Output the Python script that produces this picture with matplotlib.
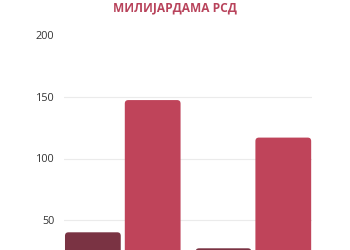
import matplotlib
matplotlib.use("Agg")
import matplotlib.pyplot as plt
from matplotlib.patches import FancyBboxPatch
import numpy as np

title = "МИЛИЈАРДАМА РСД"
categories = ["A", "B"]
series1 = [40, 27]     # dark
series2 = [147.5, 117]  # red
yticks = [50, 100, 150, 200]

dark = "#7a3343"
red = "#bf445a"

plt.rcParams['font.family'] = ['Open Sans', 'DejaVu Sans']

fig = plt.figure(figsize=(3.5, 2.5), dpi=100)
ax = fig.add_axes([64/350, 1 - 281.5/250, (311.5-64)/350, 246/250])

x = np.arange(len(categories))
w = 0.427
d = 0.229
b1 = ax.bar(x - d, series1, w, color=dark, zorder=2)
b2 = ax.bar(x + d, series2, w, color=red, zorder=2)

xlim = (-0.45, 1.445)
ylim = (0, 200)
ax.set_xlim(*xlim)
ax.set_ylim(*ylim)

# rounded corners
xpp = (xlim[1]-xlim[0]) / (311.5-64)
ypp = (ylim[1]-ylim[0]) / 246
aspect = ypp / xpp
for bars in (b1, b2):
    for p in bars:
        bx, by = p.get_x(), p.get_y()
        bw, bh = p.get_width(), p.get_height()
        fc = p.get_facecolor()
        p.set_visible(False)
        fp = FancyBboxPatch((bx, by), bw, bh,
                            boxstyle="round,pad=0,rounding_size=%f" % (3.5*xpp),
                            mutation_aspect=aspect, facecolor=fc, edgecolor='none', zorder=2)
        ax.add_patch(fp)

ax.set_yticks(yticks)
ax.set_yticklabels([str(v) for v in yticks])
ax.set_xticks([])
for v in yticks[:-1]:
    ax.axhline(v, color='#ebebeb', linewidth=0.8, zorder=0)
for s in ax.spines.values():
    s.set_visible(False)
ax.tick_params(axis='y', length=0, pad=7, labelsize=7.8, labelcolor='#333333')

fig.text(175/350, 1 - 8/250, title, ha='center', va='center', fontsize=8.6,
         fontweight='bold', color='#b8435b')

fig.savefig("out.png", dpi=100)
